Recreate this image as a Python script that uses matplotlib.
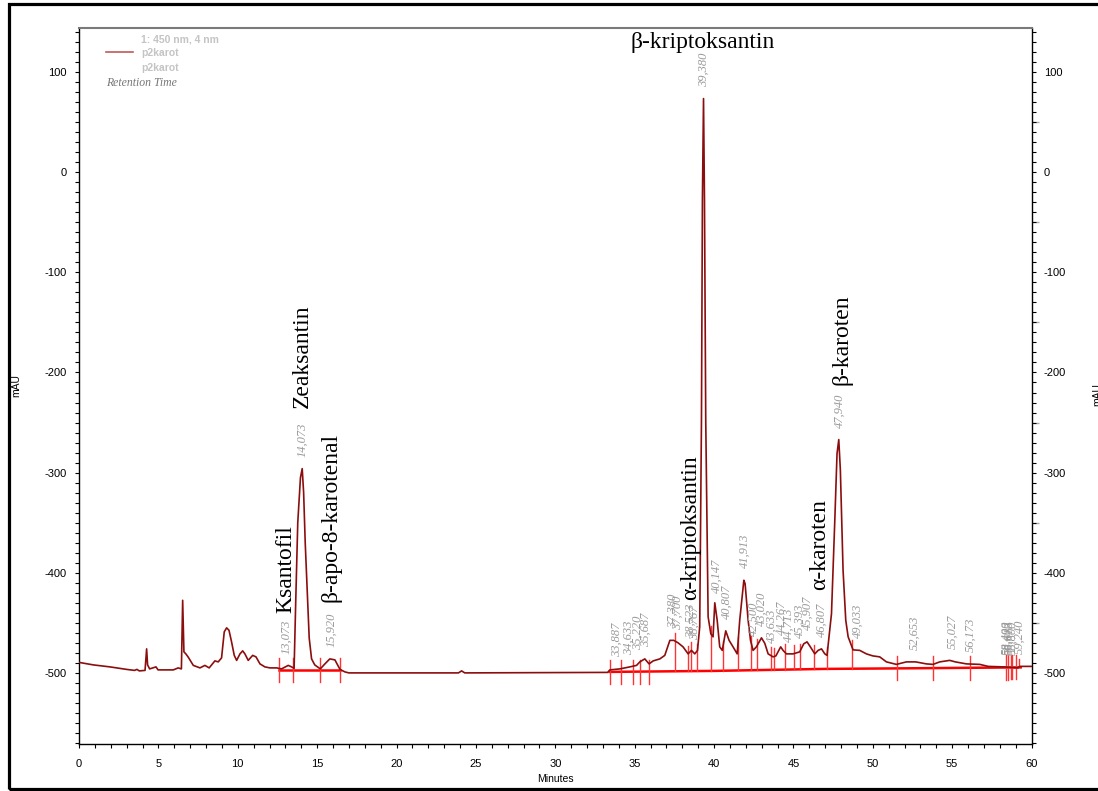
import matplotlib
matplotlib.use('Agg')
import matplotlib.pyplot as plt
from matplotlib.patches import Rectangle
from matplotlib.ticker import MultipleLocator, FixedLocator, NullFormatter
import numpy as np

plt.rcParams['axes.unicode_minus'] = False

# Chromatogram trace at 450 nm: retention time (min) and absorbance (mAU)
minutes = [0.0, 0.9, 1.95, 3.0, 3.5, 3.65, 3.8, 4.16, 4.26, 4.32, 4.45, 4.85, 4.98, 5.94,
           6.25, 6.45, 6.53, 6.61, 6.73, 6.87, 7.2, 7.62, 7.93, 8.2, 8.56, 8.77, 8.98,
           9.15, 9.3, 9.45, 9.61, 9.78, 9.93, 10.14, 10.31, 10.45, 10.66, 10.94, 11.15,
           11.4, 11.71, 12.03, 12.45, 12.76, 13.18, 13.39, 13.55, 13.65, 13.78, 13.95,
           14.06, 14.15, 14.25, 14.38, 14.5, 14.65, 14.85, 15.2, 15.49, 15.8, 16.12,
           16.44, 16.75, 17.0, 23.9, 24.1, 24.3, 33.3, 33.44, 34.07, 34.7, 35.12, 35.33,
           35.64, 35.91, 36.17, 36.59, 36.9, 37.22, 37.47, 37.74, 38.05, 38.37, 38.58,
           38.79, 38.96, 39.1, 39.21, 39.27, 39.34, 39.4, 39.48, 39.63, 39.8, 39.94,
           40.05, 40.2, 40.36, 40.52, 40.74, 40.95, 41.2, 41.46, 41.62, 41.88, 41.96,
           42.15, 42.3, 42.46, 42.67, 42.99, 43.2, 43.41, 43.72, 43.9, 44.2, 44.35,
           44.56, 44.98, 45.4, 45.65, 45.86, 46.07, 46.35, 46.56, 46.77, 46.98, 47.12,
           47.4, 47.61, 47.75, 47.86, 47.96, 48.13, 48.3, 48.45, 48.76, 49.18, 49.6,
           50.0, 50.44, 50.86, 51.49, 52.12, 52.7, 53.38, 53.8, 54.22, 54.85, 55.2,
           55.9, 56.74, 57.27, 58.22, 59.15, 59.26, 60.0]
mau = [-489.5, -492, -494, -496.5, -497.5, -496.5, -498, -497.5, -476, -492, -496, -494, -497, -497,
       -495, -496, -427.5, -479, -481, -484, -492.5, -495, -492.5, -495, -488, -489, -485,
       -459, -455, -457.5, -469, -482.5, -487.5, -481, -478, -481, -487.5, -482.5, -484,
       -491, -494, -495, -495, -496, -492.5, -494, -495.5, -430, -350, -305,
       -296, -320, -370, -420, -465, -486, -492, -496, -491, -486, -487,
       -496.5, -499, -500, -500, -498, -500, -499.5, -497, -496, -494, -492.5, -489,
       -486, -491, -488, -486, -482.5, -467.5, -467.5, -470, -474, -481, -477.5,
       -481, -477.5, -454, -248, -28, 73.5, -28, -248, -444, -461, -464,
       -430, -447.5, -474, -477.5, -458, -467.5, -474, -481, -447.5, -407.5, -411,
       -447.5, -467.5, -477.5, -474, -465, -470.5, -481, -484, -483, -474, -477.5,
       -481, -481, -479, -471, -469, -474, -481, -477.5, -476, -481, -482.5,
       -441, -347.5, -281, -267, -297.5, -397.5, -447.5, -464, -477, -477.5, -481,
       -483, -484, -489, -491.5, -489, -489, -491, -491.5, -489, -487.5, -489,
       -491, -491.5, -493.5, -494, -495, -493.5, -493.5]

# Integration baselines
base1_t = [12.61, 16.44]
base1_v = [-496.8, -496.8]
base2_t = [33.43, 40.0, 47.0, 51.5, 59.32]
base2_v = [-499, -498, -496, -495.5, -494.5]

# Peak start/end marks and drop lines (min)
peak_marks = [12.61, 13.5, 15.18, 16.44, 33.43, 34.14, 34.9, 35.34, 35.92,
              51.52, 53.82, 56.1, 58.38, 58.49, 58.69, 58.8, 59.05]
drop_lines = [37.53, 38.37, 38.58, 38.9, 39.8, 40.54, 41.5, 42.36, 42.68, 43.56,
              43.8, 44.47, 45.06, 45.4, 46.33, 47.1, 48.72, 59.24]

# Retention times of integrated peaks
retention = [13.073, 14.073, 15.920, 33.887, 34.633, 35.220, 35.687, 37.380, 37.700,
             38.523, 38.767, 39.380, 40.147, 40.807, 41.913, 42.500, 43.020, 43.633,
             44.267, 44.713, 45.393, 45.907, 46.807, 47.940, 49.033, 52.653, 55.027,
             56.173, 58.400, 58.493, 58.613, 58.800, 59.240]

# Compound names: (name, x, y, rotation)
compounds = [('Ksantofil', 13.05, -440, 90),
             ('Zeaksantin', 14.04, -235.5, 90),
             ('β-apo-8-karotenal', 15.87, -429.5, 90),
             ('α-kriptoksantin', 38.5, -427.5, 90),
             ('β-kriptoksantin', 39.3, 129.5, 0),
             ('α-karoten', 46.66, -417.5, 90),
             ('β-karoten', 48.05, -212.5, 90)]

SANS = 'Liberation Sans'
SERIF = 'Liberation Serif'

fig = plt.figure(figsize=(10.98, 7.91), dpi=100)
ax = fig.add_axes([79 / 1098, 1 - 743.5 / 791, 952.5 / 1098, 715.8 / 791])

t = np.array(minutes)
v = np.array(mau)


def baseline_at(x):
    if x < 20:
        return np.interp(x, base1_t, base1_v)
    return np.interp(x, base2_t, base2_v)


# baselines
ax.plot(base1_t, base1_v, color='#ff0000', lw=1.8, zorder=2)
ax.plot(base2_t, base2_v, color='#ff0000', lw=1.8, zorder=2)

# peak start/end marks
for m in peak_marks:
    b = baseline_at(m)
    ax.plot([m, m], [b - 12, b + 12], color='#ff3333', lw=1.0, zorder=2)

# drop lines from the baseline up to the trace
for d in drop_lines:
    b = baseline_at(d)
    ax.plot([d, d], [b, np.interp(d, t, v) + 8], color='#ff3333', lw=1.0, zorder=2)

# trace
ax.plot(t, v, color='#8b0e0e', lw=1.2, zorder=3)

# retention time labels
for rt in retention:
    level = np.interp(np.linspace(rt - 0.08, rt + 0.08, 17), t, v).max()
    ax.text(rt, level + 12, f'{rt:.3f}'.replace('.', ','), rotation=90,
            ha='center', va='bottom', fontsize=9, style='italic',
            family=SERIF, color='#9a9a9a', zorder=4)

# compound names
for name, x, y, rot in compounds:
    ax.text(x, y, name, rotation=rot, ha='center',
            va='bottom' if rot else 'center', fontsize=17,
            family=SERIF, color='black', zorder=5)

ax.set_xlim(0, 60)
ax.set_ylim(-570.5, 144.3)
ax.xaxis.set_major_locator(MultipleLocator(5))
ax.xaxis.set_minor_locator(MultipleLocator(1))
ax.yaxis.set_major_locator(MultipleLocator(100))
ax.yaxis.set_minor_locator(MultipleLocator(10))
ax.tick_params(which='both', direction='out', length=3, width=0.8,
               left=True, right=True, labelleft=True, labelright=True,
               top=False, labelsize=8, pad=6)
ax.tick_params(axis='x', pad=8)
for lab in ax.get_xticklabels() + ax.get_yticklabels():
    lab.set_family(SANS)
for side in ('left', 'right', 'bottom'):
    ax.spines[side].set_color('black')
    ax.spines[side].set_linewidth(1.0)
ax.spines['top'].set_color('#7a7a7a')
ax.spines['top'].set_linewidth(1.5)

# grey half-step marks on the right scale
sec = ax.secondary_yaxis('right')
sec.spines['right'].set_visible(False)
sec.yaxis.set_major_locator(FixedLocator(np.arange(-450, 100, 100)))
sec.yaxis.set_major_formatter(NullFormatter())
sec.yaxis.set_minor_locator(FixedLocator([]))
sec.tick_params(direction='out', length=5, width=1.0, color='#aaaaaa')

ax.set_xlabel('Minutes', fontsize=7.5, family=SANS, labelpad=4)
fig.text(16 / 1098, 1 - 386 / 791, 'mAU', rotation=90, ha='center', va='center',
         fontsize=7.5, family=SANS)
fig.text(1097 / 1098, 1 - 395 / 791, 'mAU', rotation=90, ha='center', va='center',
         fontsize=7.5, family=SANS)

# legend block
fig.add_artist(plt.Line2D([106 / 1098, 133 / 1098], [1 - 52 / 791, 1 - 52 / 791],
                          color='#c05a5a', lw=1.2))
for i, s in enumerate(['1: 450 nm, 4 nm', 'p2karot', 'p2karot']):
    fig.text(141 / 1098, 1 - (39 + 14.5 * i) / 791, s, ha='left', va='center',
             fontsize=7.5, weight='bold', family=SANS, color='#c4c4c4')
fig.text(106 / 1098, 1 - 83.5 / 791, 'Retention Time', ha='left', va='center',
         fontsize=8.5, style='italic', family=SERIF, color='#777777')

# outer frame
fig.add_artist(Rectangle((8.5 / 1098, 1 - 789 / 791), 1.2, (789 - 3.5) / 791,
                         transform=fig.transFigure, fill=False, lw=2.3,
                         edgecolor='black', clip_on=False))

fig.savefig('out.png', dpi=100)
plt.close(fig)
